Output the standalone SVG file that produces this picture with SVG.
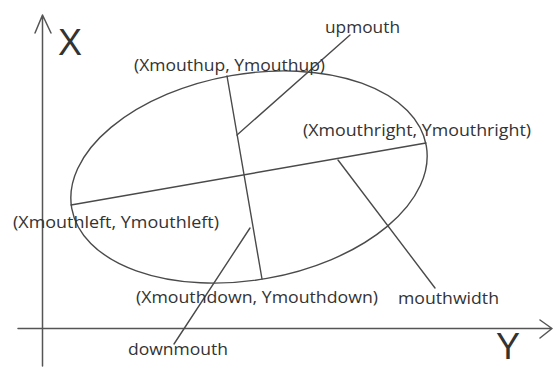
<svg xmlns="http://www.w3.org/2000/svg" width="553" height="367" viewBox="0 0 553 367">
<style>
.ln{fill:none;stroke:#4a4a4a;stroke-width:1.4;stroke-linecap:round;stroke-linejoin:round}
.ax{fill:none;stroke:#555;stroke-width:1.5;stroke-linecap:round;stroke-linejoin:round}
.t{font-family:"Open Sans","Noto Sans",sans-serif;font-size:16px;fill:#333}
.big{font-family:"Liberation Sans","Open Sans",sans-serif;font-size:36px;fill:#333}
</style>
<rect width="553" height="367" fill="#fff"/>
<g id="axes">
<path class="ax" d="M42.5,366 V15 M35,33 L42.5,15 L51,33"/>
<path class="ax" d="M18,328.5 H552 M540,320 L552,328.5 L540,338"/>
<text class="big" x="58" y="55" textLength="24" lengthAdjust="spacingAndGlyphs">X</text>
<text class="big" x="496" y="359" textLength="24" lengthAdjust="spacingAndGlyphs">Y</text>
</g>
<g id="mouth">
<ellipse class="ln" cx="249" cy="177" rx="180" ry="103" transform="rotate(-10 249 177)"/>
</g>
<g id="connectors">
<line class="ln" x1="71" y1="205" x2="426" y2="143"/>
<line class="ln" x1="227" y1="76" x2="262" y2="279"/>
<line class="ln" x1="237" y1="135" x2="350" y2="35"/>
<line class="ln" x1="250" y1="228" x2="174" y2="344"/>
<line class="ln" x1="338" y1="160" x2="435" y2="288"/>
</g>
<g id="label-up"><text class="t" x="325" y="33" textLength="75" lengthAdjust="spacingAndGlyphs">upmouth</text></g>
<g id="label-mouthup"><text class="t" x="134" y="71" textLength="191" lengthAdjust="spacingAndGlyphs">(Xmouthup, Ymouthup)</text></g>
<g id="label-mouthright"><text class="t" x="303" y="136" textLength="228" lengthAdjust="spacingAndGlyphs">(Xmouthright, Ymouthright)</text></g>
<g id="label-mouthleft"><text class="t" x="13" y="228" textLength="206" lengthAdjust="spacingAndGlyphs">(Xmouthleft, Ymouthleft)</text></g>
<g id="label-mouthdown"><text class="t" x="136" y="303" textLength="242" lengthAdjust="spacingAndGlyphs">(Xmouthdown, Ymouthdown)</text></g>
<g id="label-width"><text class="t" x="398" y="304" textLength="101" lengthAdjust="spacingAndGlyphs">mouthwidth</text></g>
<g id="label-down"><text class="t" x="128" y="355" textLength="100" lengthAdjust="spacingAndGlyphs">downmouth</text></g>
</svg>
